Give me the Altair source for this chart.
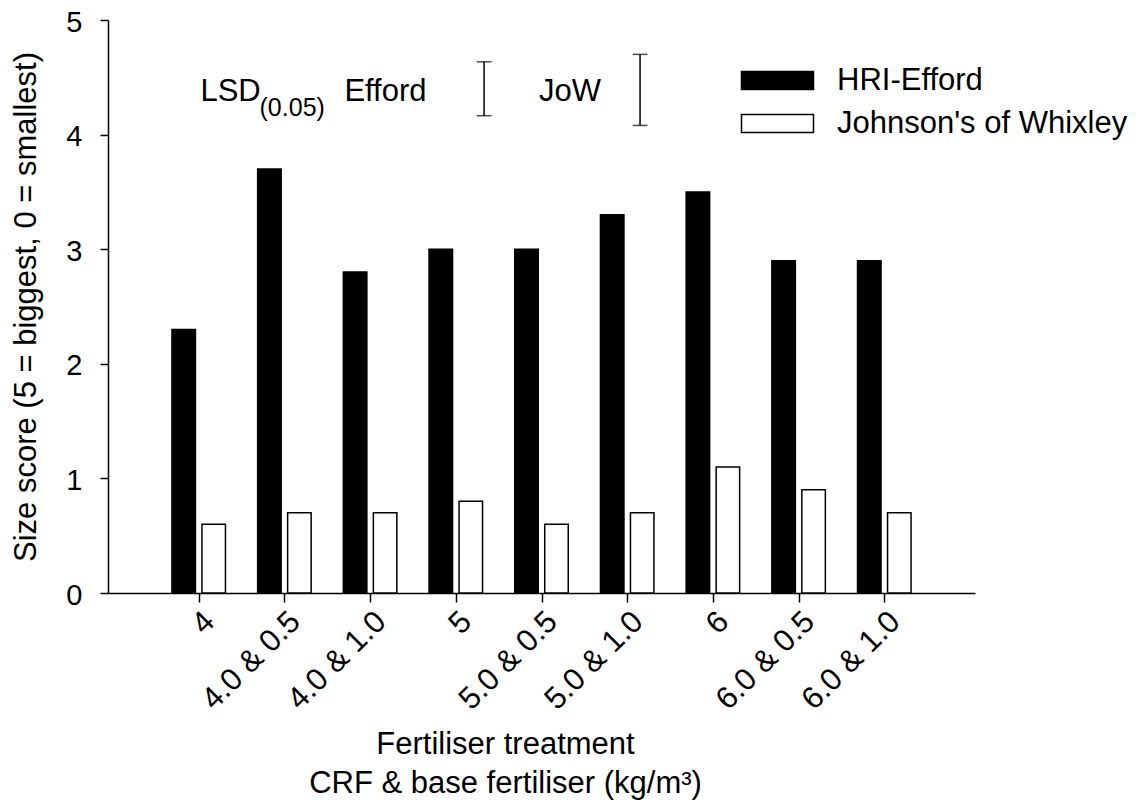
import json
import altair as alt
import pandas as pd

# ---- data ----
categories = ["4", "4.0 & 0.5", "4.0 & 1.0", "5", "5.0 & 0.5", "5.0 & 1.0",
              "6", "6.0 & 0.5", "6.0 & 1.0"]
efford = [2.3, 3.7, 2.8, 3.0, 3.0, 3.3, 3.5, 2.9, 2.9]
jow = [0.6, 0.7, 0.7, 0.8, 0.6, 0.7, 1.1, 0.9, 0.7]
series_names = ["HRI-Efford", "Johnson's of Whixley"]
series_fill = ["black", "white"]

# LSD(0.05) bars: length, centre and horizontal position (x units)
lsd_names = ["Efford", "JoW"]
lsd_values = [0.47, 0.62]
lsd_centres = [4.40, 4.39]
lsd_pos = [4.33, 6.15]

# annotation labels
ann_text = ["LSD", "Efford", "JoW"]
ann_x = [1.02, 2.70, 4.97]
ann_y = [4.29, 4.29, 4.29]
sub_text = ["(0.05)"]
sub_x = [1.71]
sub_y = [4.16]

FONT = "Liberation Sans"
FS = 31

rows = []
for i, c in enumerate(categories):
    rows.append({"pos": i + 1, "cat": c, "series": series_names[0], "score": efford[i]})
    rows.append({"pos": i + 1, "cat": c, "series": series_names[1], "score": jow[i]})
bars_df = pd.DataFrame(rows)

lsd_df = pd.DataFrame({
    "name": lsd_names,
    "pos": lsd_pos,
    "lo": [c - v / 2 for c, v in zip(lsd_centres, lsd_values)],
    "hi": [c + v / 2 for c, v in zip(lsd_centres, lsd_values)],
})
caps_df = pd.concat([
    pd.DataFrame({"pos": lsd_pos, "score": lsd_df["lo"]}),
    pd.DataFrame({"pos": lsd_pos, "score": lsd_df["hi"]}),
])
ann_df = pd.DataFrame({"label": ann_text, "pos": ann_x, "score": ann_y})
sub_df = pd.DataFrame({"label": sub_text, "pos": sub_x, "score": sub_y})

xscale = alt.Scale(domain=[0, 10], nice=False, zero=False)
yscale = alt.Scale(domain=[0, 5], nice=False)

label_expr = json.dumps(categories) + "[datum.value - 1]"
xaxis = alt.Axis(
    values=list(range(1, 10)), labelExpr=label_expr, labelOverlap=False,
    title=["Fertiliser treatment", "CRF & base fertiliser (kg/m³)"],
    grid=False, tickSize=9, tickColor="black", domainColor="black",
    tickWidth=1.5, domainWidth=1.5,
    labelAngle=-45, labelAlign="right", labelBaseline="top",
    labelFontSize=FS, labelFont=FONT, labelColor="black", labelPadding=4,
    labelLimit=0,
    titleFontSize=FS, titleFont=FONT, titleFontWeight="normal", titleColor="black",
    titleX=397, titleY=160, titleBaseline="alphabetic", titleAlign="center",
    titleLineHeight=39,
)
yaxis = alt.Axis(
    values=[0, 1, 2, 3, 4, 5], grid=False, tickSize=8, tickColor="black",
    domainColor="black", tickWidth=1.5, domainWidth=1.5,
    labelFontSize=29, labelFont=FONT, labelColor="black", labelPadding=18,
    labelOffset=2,
    title="Size score (5 = biggest, 0 = smallest)",
    titleFontSize=FS, titleFont=FONT, titleFontWeight="normal", titleColor="black",
    titleX=-82, titleY=286.5, titleAngle=270, titleAlign="center",
    titleBaseline="middle",
)


def X(field="pos"):
    return alt.X(f"{field}:Q", scale=xscale, axis=xaxis)


def Y(field="score"):
    return alt.Y(f"{field}:Q", scale=yscale, axis=yaxis)


fill = alt.Fill(
    "series:N",
    scale=alt.Scale(domain=series_names, range=series_fill),
    legend=alt.Legend(
        title=None, orient="none", legendX=654, legendY=45, padding=0,
        symbolType="M-4,-1H4V1H-4Z", symbolSize=324,
        symbolStrokeColor="black", symbolStrokeWidth=1.5,
        labelFontSize=FS, labelFont=FONT, labelColor="black", labelLimit=0,
        labelOffset=44, rowPadding=11,
    ),
)

base = alt.Chart(bars_df)
bars_a = base.transform_filter(alt.datum.series == series_names[0]).mark_bar(
    width=23.5, xOffset=-15, stroke="black", strokeWidth=1.5
).encode(x=X(), y=Y(), fill=fill)
bars_b = base.transform_filter(alt.datum.series == series_names[1]).mark_bar(
    width=23.5, xOffset=15, stroke="black", strokeWidth=1.5
).encode(x=X(), y=Y(), fill=fill)

rules = alt.Chart(lsd_df).mark_rule(color="black", strokeWidth=1.5).encode(
    x=X(), y=Y("lo"), y2="hi:Q"
)
caps = alt.Chart(caps_df).mark_tick(
    orient="horizontal", size=15, thickness=1.5, color="black"
).encode(x=X(), y=Y())

ann = alt.Chart(ann_df).mark_text(
    align="left", baseline="alphabetic", fontSize=FS, font=FONT, color="black"
).encode(x=X(), y=Y(), text="label:N")
sub = alt.Chart(sub_df).mark_text(
    align="left", baseline="alphabetic", fontSize=25, font=FONT, color="black"
).encode(x=X(), y=Y(), text="label:N")

chart = alt.layer(bars_a, bars_b, rules, caps, ann, sub).properties(
    width=867, height=573,
    autosize=alt.AutoSizeParams(type="none"),
    padding={"left": 100, "top": 12, "right": 161, "bottom": 210},
    background="white",
).configure_view(strokeWidth=0)

chart.save("out.html", embed_options={"renderer": "svg", "actions": False})
